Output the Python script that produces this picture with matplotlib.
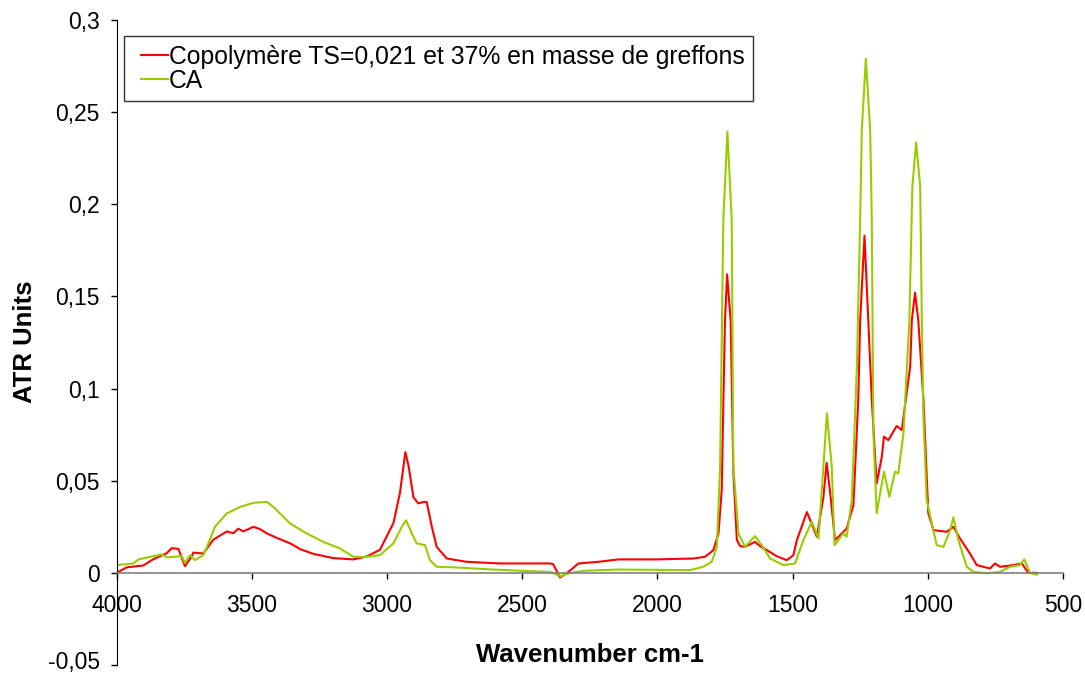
import matplotlib
matplotlib.use("Agg")
import matplotlib.pyplot as plt
from matplotlib.lines import Line2D
from matplotlib.legend_handler import HandlerLine2D
from matplotlib.ticker import FuncFormatter, MultipleLocator
from matplotlib.transforms import ScaledTranslation

plt.rcParams['font.family'] = ['Liberation Sans', 'DejaVu Sans']

# ATR spectrum of the grafted copolymer
copo_wn = [4000, 3962, 3901, 3864, 3814, 3796, 3771, 3747, 3722, 3716, 3679, 3642,
           3592, 3568, 3550, 3531, 3494, 3469, 3444, 3408, 3358, 3321, 3272, 3198,
           3124, 3075, 3026, 2976, 2952, 2932, 2920, 2902, 2884, 2865, 2853, 2834,
           2816, 2779, 2705, 2582, 2397, 2385, 2360, 2329, 2292, 2218, 2144, 2002,
           1867, 1824, 1793, 1774, 1762, 1750, 1742, 1729, 1719, 1706, 1694, 1676,
           1639, 1620, 1595, 1558, 1521, 1497, 1484, 1447, 1410, 1386, 1374, 1358,
           1343, 1324, 1300, 1275, 1257, 1250, 1234, 1220, 1207, 1189, 1170, 1162,
           1146, 1115, 1096, 1065, 1059, 1047, 1035, 1016, 998, 979, 930, 905, 881,
           844, 819, 770, 751, 733, 683, 652, 628, 597]
copo_abs = [0.000, 0.003, 0.004, 0.0074, 0.0107, 0.0134, 0.013, 0.0036, 0.0089, 0.011,
            0.0105, 0.018, 0.0225, 0.0215, 0.024, 0.0225, 0.025, 0.0237, 0.0214, 0.019,
            0.016, 0.0129, 0.0103, 0.008, 0.0073, 0.0089, 0.0125, 0.027, 0.0433, 0.0655,
            0.058, 0.041, 0.0377, 0.0385, 0.0385, 0.025, 0.0141, 0.0078, 0.006, 0.0051,
            0.0051, 0.0047, -0.0025, 0.0005, 0.0051, 0.006, 0.0073, 0.0073, 0.0078,
            0.0087, 0.0123, 0.0214, 0.045, 0.137, 0.162, 0.137, 0.055, 0.0178, 0.0145,
            0.0141, 0.0168, 0.0145, 0.0123, 0.009, 0.0069, 0.0096, 0.0178, 0.033,
            0.0196, 0.041, 0.0597, 0.0395, 0.0178, 0.0205, 0.024, 0.0367, 0.094, 0.137,
            0.183, 0.137, 0.094, 0.0485, 0.063, 0.0739, 0.072, 0.0797, 0.0775, 0.112,
            0.137, 0.152, 0.137, 0.094, 0.0323, 0.0232, 0.0223, 0.025, 0.0187, 0.0105,
            0.0042, 0.0024, 0.0051, 0.0033, 0.0042, 0.0051, 0.0, 0.0]

# ATR spectrum of cellulose acetate
ca_wn = [4000, 3938, 3919, 3876, 3833, 3814, 3759, 3747, 3728, 3710, 3679, 3660, 3636,
         3592, 3543, 3494, 3444, 3420, 3358, 3297, 3235, 3173, 3124, 3075, 3026, 2976,
         2945, 2929, 2908, 2890, 2859, 2841, 2816, 2754, 2607, 2397, 2386, 2360, 2329,
         2274, 2150, 1879, 1830, 1799, 1780, 1768, 1756, 1741, 1725, 1719, 1700, 1676,
         1639, 1614, 1583, 1534, 1491, 1460, 1429, 1404, 1386, 1373, 1355, 1345, 1312,
         1300, 1281, 1262, 1250, 1244, 1229, 1213, 1207, 1201, 1189, 1162, 1142, 1121,
         1109, 1090, 1068, 1057, 1043, 1028, 1022, 1016, 1004, 967, 942, 917, 905, 887,
         856, 831, 782, 733, 696, 659, 643, 622, 597]
ca_abs = [0.0042, 0.0051, 0.0073, 0.0087, 0.010, 0.0084, 0.0091, 0.0054, 0.0096, 0.0069,
          0.0096, 0.016, 0.025, 0.0323, 0.0358, 0.038, 0.0385, 0.0358, 0.0268, 0.0214,
          0.0168, 0.0132, 0.0087, 0.0087, 0.0096, 0.016, 0.025, 0.0286, 0.0214, 0.016,
          0.015, 0.0069, 0.0033, 0.003, 0.0018, 0.0005, 0.0, -0.0018, -0.0003, 0.0011,
          0.0018, 0.0015, 0.0033, 0.006, 0.0141, 0.0576, 0.1915, 0.2395, 0.1915, 0.0576,
          0.0214, 0.0141, 0.0199, 0.015, 0.0078, 0.0042, 0.0051, 0.0178, 0.0277, 0.0187,
          0.0576, 0.0866, 0.0576, 0.015, 0.0214, 0.0196, 0.0395, 0.112, 0.1915, 0.24,
          0.279, 0.24, 0.1915, 0.0757, 0.0323, 0.0549, 0.0413, 0.0549, 0.054, 0.0757,
          0.137, 0.2096, 0.2335, 0.2096, 0.137, 0.085, 0.0395, 0.015, 0.0141, 0.0232,
          0.0301, 0.0178, 0.0033, 0.0005, -0.0002, 0.0005, 0.0033, 0.0042, 0.0073, 0.0,
          -0.001]

series_labels = ["Copolymère TS=0,021 et 37% en masse de greffons", "CA"]

fig = plt.figure(figsize=(10.85, 6.75), dpi=100)
ax = fig.add_axes([0.1074, 0.0148, 0.8723, 0.9556])

ax.plot(copo_wn, copo_abs, color='#FF0000', lw=1.5, label=series_labels[0])
ax.plot(ca_wn, ca_abs, color='#99CC00', lw=1.5, label=series_labels[1])

ax.set_xlim(4000, 500)
ax.set_ylim(-0.05, 0.3)

ax.spines['top'].set_visible(False)
ax.spines['right'].set_visible(False)
ax.spines['bottom'].set_position(('data', 0))
ax.spines['bottom'].set_color('#808080')
ax.spines['bottom'].set_linewidth(1.2)
ax.spines['left'].set_color('#000000')

ax.xaxis.set_major_locator(MultipleLocator(500))
ax.yaxis.set_major_locator(MultipleLocator(0.05))
ax.yaxis.set_major_formatter(FuncFormatter(lambda v, p: ('%g' % round(v, 3)).replace('.', ',')))
ax.xaxis.set_major_formatter(FuncFormatter(lambda v, p: '%d' % v))
ax.tick_params(axis='both', direction='out', length=4.5, width=1, labelsize=16.5, colors='#000000')
ax.tick_params(axis='x', pad=10.5)
ax.tick_params(axis='y', pad=7.5)

fig.text(0.5435, 0.0296, 'Wavenumber cm-1', ha='center', va='center',
         fontsize=18.5, fontweight='bold')
fig.text(0.023, 0.494, 'ATR Units', ha='center', va='center', rotation=90,
         fontsize=18.5, fontweight='bold')

leg = ax.legend(loc='upper left', bbox_to_anchor=(0.008, 0.975), borderaxespad=0,
                fontsize=17.8, frameon=True, fancybox=False, handlelength=1.74,
                handletextpad=-0.27, labelspacing=0.0, borderpad=0.35,
                handler_map={Line2D: HandlerLine2D(numpoints=2, marker_pad=0.32)})
leg.get_frame().set_edgecolor('#000000')
leg.get_frame().set_linewidth(1.0)

# keep the lowest y tick label inside the canvas
fig.canvas.draw()
for tick in ax.yaxis.get_major_ticks():
    if abs(tick.get_loc() + 0.05) < 1e-9:
        lbl = tick.label1
        lbl.set_transform(lbl.get_transform() + ScaledTranslation(0, 3.5 / 72, fig.dpi_scale_trans))

fig.savefig('out.png', dpi=100)
